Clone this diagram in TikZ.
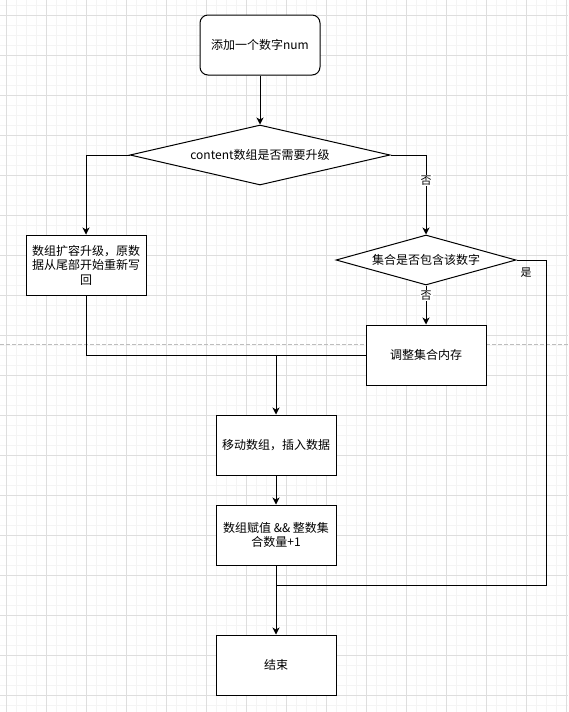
\documentclass[tikz,border=0pt]{standalone}
\usepackage{fontspec}
\setmainfont{Noto Sans CJK SC}
\usepackage{tikz}
\usetikzlibrary{arrows.meta,shapes.geometric,positioning}
\definecolor{gridmajor}{HTML}{DEDEDE}
\definecolor{gridminor}{HTML}{F4F4F4}
\definecolor{pagebreak}{HTML}{BDBDBD}

\begin{document}
\begin{tikzpicture}[
		x=1pt,
		y=-1pt,
		line join=miter,
		>={Stealth[length=7pt,width=7pt,inset=2pt]},
		box/.style={draw, line width=1pt, fill=white, minimum width=120pt, minimum height=60pt,
			inner sep=2pt, align=center, font=\fontsize{12}{14.5}\selectfont},
		startbox/.style={box, rounded corners=8pt},
		decision/.style={draw, diamond, line width=1pt, fill=white, inner sep=0pt,
			align=center, font=\fontsize{12}{14.5}\selectfont},
		flow/.style={->, line width=1pt},
		link/.style={line width=1pt},
		lbl/.style={fill=white, inner sep=1pt, font=\fontsize{11}{13}\selectfont}
		]
		
		%------------------------------------------------------------------
		% Canvas
		%------------------------------------------------------------------
		\useasboundingbox (0,0) rectangle (568,712);
		\fill[white] (0,0) rectangle (568,712);
		
		% Minor grid
		\foreach \gx in {6,16,...,566} \draw[gridminor, line width=1pt] (\gx,0) -- (\gx,712);
		\foreach \gy in {5,15,...,705} \draw[gridminor, line width=1pt] (0,\gy) -- (568,\gy);
		
		% Major grid
		\foreach \gx in {6,46,...,566} \draw[gridmajor, line width=1pt] (\gx,0) -- (\gx,712);
		\foreach \gy in {15,55,...,695} \draw[gridmajor, line width=1pt] (0,\gy) -- (568,\gy);
		
		% Page break
		\draw[pagebreak, line width=1pt, dash pattern=on 4pt off 2pt] (0,344) -- (568,344);
		
		%------------------------------------------------------------------
		% Steps
		%------------------------------------------------------------------
		\node[startbox] (add) at (260,45) {添加一个数字num};
		
		\node[decision, minimum width=260pt, minimum height=60pt, aspect=4.33]
		(upgrade) at (260,155) {content数组是否需要升级};
		
		\node[box] (expand) at (86,265) {数组扩容升级，原数\\据从尾部开始重新写\\回};
		
		\node[decision, minimum width=180pt, minimum height=50pt, aspect=3.6]
		(contains) at (426,260) {集合是否包含该数字};
		
		\node[box] (adjust) at (426,355) {调整集合内存};
		\node[box] (move)   at (276,445) {移动数组，插入数据};
		\node[box] (assign) at (276,535) {数组赋值 \&\& 整数集\\合数量+1};
		\node[box] (finish) at (276,665) {结束};
		
		% Junctions
		\coordinate (mergeL) at (276,355);
		\coordinate (yesR)   at (546,585);
		\coordinate (joinE)  at (276,585);
		
		%------------------------------------------------------------------
		% Connectors
		%------------------------------------------------------------------
		\draw[flow] (add) -- (upgrade);
		\draw[flow] (upgrade.west) -| (expand.north);
		\draw[flow] (upgrade.east) -| (contains.north) node[lbl, pos=0.66] {否};
		
		\draw[link] (contains.east) -| (yesR) -- (joinE);
		\node[font=\fontsize{11}{13}\selectfont] (yes) at (526,273) {是};
		
		\draw[flow] (contains.south) -- (adjust.north) node[lbl, pos=0.25] {否};
		
		\draw[link] (expand.south) |- (mergeL);
		\draw[link] (adjust.west) -- (mergeL);
		\draw[flow] (mergeL) -- (move.north);
		
		\draw[flow] (move) -- (assign);
		\draw[flow] (assign) -- (finish);
		
	\end{tikzpicture}
\end{document}
